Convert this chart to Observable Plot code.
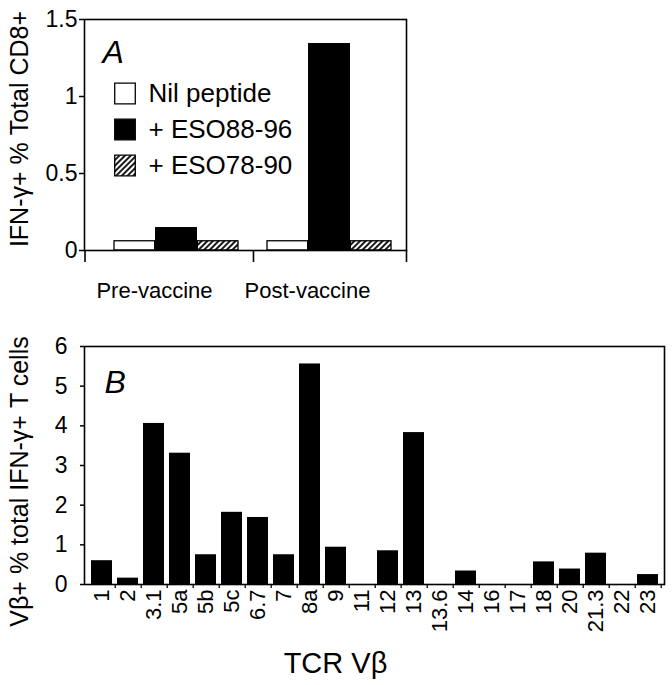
<!DOCTYPE html>
<html><head><meta charset="utf-8">
<script src="https://cdn.jsdelivr.net/npm/d3@7"></script>
<script src="https://cdn.jsdelivr.net/npm/@observablehq/plot@0.6"></script>
<style>body{margin:0;background:#fff} #chart svg{display:block}</style>
</head><body><div id="chart"></div>
<script>
// ---- Panel A data ----
const groups = ["Pre-vaccine", "Post-vaccine"];
const seriesNames = ["Nil peptide", "+ ESO88-96", "+ ESO78-90"];
const nilPeptide = [0.06, 0.06];
const eso8896 = [0.145, 1.34];
const eso7890 = [0.06, 0.06];
const yTicksA = [0, 0.5, 1, 1.5];
const yTitleA = "IFN-γ+ % Total CD8+";
const panelA = "A";

// ---- Panel B data ----
const vbCategories = ["1","2","3.1","5a","5b","5c","6.7","7","8a","9","11","12","13","13.6","14","16","17","18","20","21.3","22","23"];
const vbValues = [0.60,0.16,4.06,3.31,0.75,1.82,1.69,0.75,5.56,0.94,0,0.85,3.83,0,0.34,0,0,0.57,0.39,0.79,0,0.25];
const yTicksB = [0,1,2,3,4,5,6];
const yTitleB = "Vβ+ % total IFN-γ+ T cells";
const xTitleB = "TCR Vβ";
const panelB = "B";

const FONT = "Liberation Sans, Arial, Helvetica, sans-serif";
const W = 672;
const style = {fontFamily: FONT, color: "black", background: "white", overflow: "visible"};

// ---- Panel A ----
const A = {h: 320, mL: 84, mR: 266, mT: 19, mB: 70, pI: 0.188, pO: 0.1396, align: 0.674};
const rangeA = W - A.mL - A.mR;
const stepA = rangeA / (groups.length - A.pI + 2 * A.pO);
const bwA = stepA * (1 - A.pI);
const leftOuterA = 2 * A.pO * stepA * A.align;

const rowsOf = vals => groups.map((g, i) => ({group: g, value: vals[i]}));
const fills = ["white", "black", "url(#hatchA)"];

const legendMarks = seriesNames.flatMap((s, i) => [
  Plot.dot([s], {frameAnchor: "top-left", dx: 40.5, dy: 74 + i * 36, symbol: "square", r: 11.6,
    fill: fills[i], stroke: "black", strokeWidth: 1.3}),
  Plot.text([s], {frameAnchor: "top-left", dx: 64, dy: 74 + i * 36, text: d => d, textAnchor: "start",
    lineAnchor: "middle", fontSize: 26})
]);

const chartA = Plot.plot({
  width: W, height: A.h,
  marginLeft: A.mL, marginRight: A.mR, marginTop: A.mT, marginBottom: A.mB,
  style,
  x: {type: "band", domain: groups, paddingInner: A.pI, paddingOuter: A.pO, align: A.align},
  y: {domain: [0, 1.5]},
  marks: [
    Plot.barY(rowsOf(nilPeptide), {x: "group", y: "value", fill: fills[0], stroke: "black", strokeWidth: 1.3,
      insetRight: 2 * bwA / 3}),
    Plot.barY(rowsOf(eso8896), {x: "group", y: "value", fill: fills[1], stroke: "black", strokeWidth: 1.3,
      insetLeft: bwA / 3, insetRight: bwA / 3}),
    Plot.barY(rowsOf(eso7890), {x: "group", y: "value", fill: fills[2], stroke: "black", strokeWidth: 1.3,
      insetLeft: 2 * bwA / 3}),
    Plot.frame({stroke: "black", strokeWidth: 1.6}),
    Plot.axisY({ticks: yTicksA, tickFormat: d3.format("~g"), tickSize: 5, tickPadding: 2, fontSize: 23,
      label: null, strokeWidth: 1.5}),
    Plot.axisX({tickSize: 0, tickPadding: 32, dx: -22, fontSize: 22, label: null}),
    Plot.axisX({tickSize: 12, text: null, dx: stepA / 2, label: null, strokeWidth: 1.6}),
    Plot.axisX({ticks: [groups[0]], tickSize: 12, text: null, dx: -(leftOuterA + bwA / 2), label: null, strokeWidth: 1.6}),
    Plot.text([panelA], {frameAnchor: "top-left", dx: 18, dy: 43, text: d => d, textAnchor: "start",
      lineAnchor: "bottom", fontSize: 32, fontStyle: "italic"}),
    ...legendMarks,
    Plot.text([yTitleA], {frameAnchor: "left", dx: -57, dy: -6, rotate: -90, text: d => d,
      textAnchor: "middle", lineAnchor: "bottom", fontSize: 25})
  ]
});

// hatch pattern for "+ ESO78-90"
const svgNS = "http://www.w3.org/2000/svg";
const defs = document.createElementNS(svgNS, "defs");
defs.innerHTML = `<pattern id="hatchA" patternUnits="userSpaceOnUse" width="4" height="4" patternTransform="rotate(45)">
  <rect width="4" height="4" fill="white"></rect>
  <line x1="1" y1="0" x2="1" y2="4" stroke="black" stroke-width="1.8"></line></pattern>`;
chartA.insertBefore(defs, chartA.firstChild);

// ---- Panel B ----
const B = {h: 365, mL: 84, mR: 8, mT: 26, mB: 101, pI: 0.2, pO: 0.08};
const rangeB = W - B.mL - B.mR;
const stepB = rangeB / (vbCategories.length - B.pI + 2 * B.pO);
const vbRows = vbCategories.map((c, i) => ({cat: c, value: vbValues[i]}));

const chartB = Plot.plot({
  width: W, height: B.h,
  marginLeft: B.mL, marginRight: B.mR, marginTop: B.mT, marginBottom: B.mB,
  style,
  x: {type: "band", domain: vbCategories, paddingInner: B.pI, paddingOuter: B.pO},
  y: {domain: [0, 6]},
  marks: [
    Plot.barY(vbRows, {x: "cat", y: "value", fill: "black"}),
    Plot.frame({stroke: "black", strokeWidth: 1.6}),
    Plot.axisY({ticks: yTicksB, tickFormat: d3.format("~g"), tickSize: 4, tickPadding: 13, fontSize: 23,
      label: null, strokeWidth: 1.5}),
    Plot.axisX({tickRotate: -90, tickSize: 0, tickPadding: 5, fontSize: 22, label: null}),
    Plot.axisX({tickSize: 4, text: null, dx: stepB / 2, label: null, strokeWidth: 1.3}),
    Plot.text([panelB], {frameAnchor: "top-left", dx: 20, dy: 46, text: d => d, textAnchor: "start",
      lineAnchor: "bottom", fontSize: 32, fontStyle: "italic"}),
    Plot.text([yTitleB], {frameAnchor: "left", dx: -57, dy: 16, rotate: -90, text: d => d,
      textAnchor: "middle", lineAnchor: "bottom", fontSize: 25}),
    Plot.text([xTitleB], {frameAnchor: "bottom", dx: -39, dy: 88, text: d => d,
      textAnchor: "middle", lineAnchor: "bottom", fontSize: 29})
  ]
});

const root = document.getElementById("chart");
root.appendChild(chartA);
root.appendChild(chartB);
</script>
</body></html>
